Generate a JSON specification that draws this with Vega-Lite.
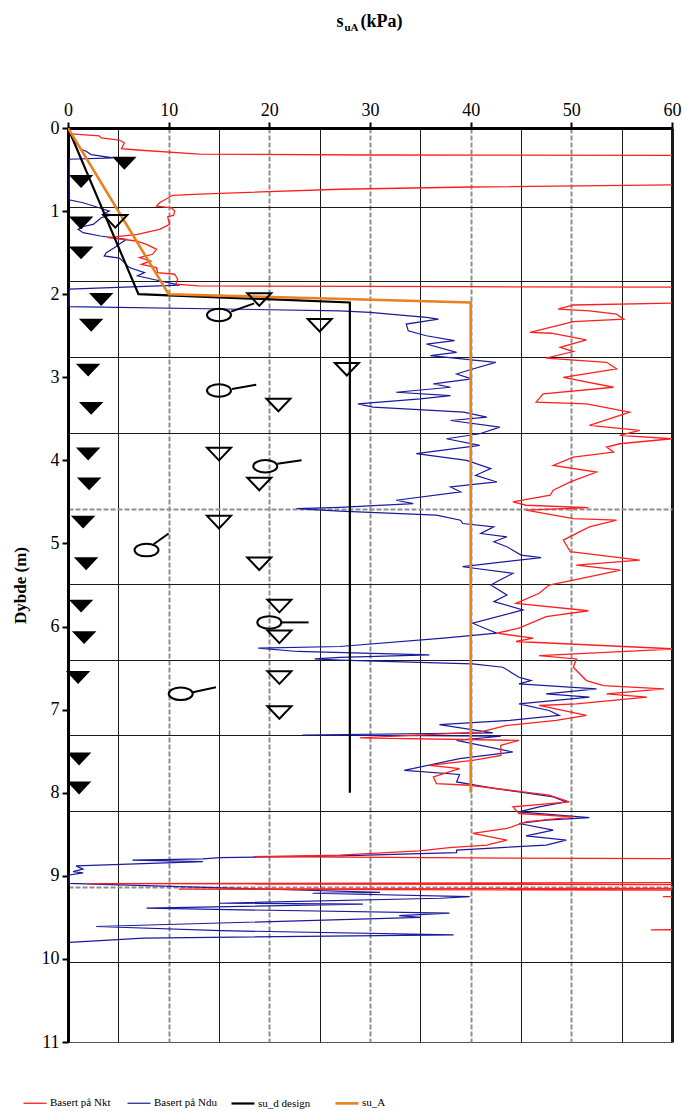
{
  "$schema": "https://vega.github.io/schema/vega-lite/v6.json",
  "width": 604,
  "height": 914,
  "autosize": {"type": "none"},
  "padding": {"left": 68, "top": 128, "right": 10, "bottom": 69},
  "background": "white",
  "config": {
    "font": "Liberation Serif",
    "view": {"stroke": "#555555", "strokeWidth": 1},
    "axis": {"labelFont": "Liberation Serif", "titleFont": "Liberation Serif", "labelColor": "black", "titleColor": "black"}
  },
  "datasets": {
    "curves": [
      {"s":"Basert på Ndu","x":0.08,"d":0.036},{"s":"Basert på Ndu","x":0.48,"d":0.136},{"s":"Basert på Ndu","x":1.3,"d":0.256},{"s":"Basert på Ndu","x":1.8,"d":0.28},{"s":"Basert på Ndu","x":2.3,"d":0.32},{"s":"Basert på Ndu","x":4.5,"d":0.36},{"s":"Basert på Ndu","x":0.15,"d":0.376},{"s":"Basert på Ndu","x":0.1,"d":0.865},{"s":"Basert på Ndu","x":1.5,"d":0.9},{"s":"Basert på Ndu","x":3.1,"d":0.96},{"s":"Basert på Ndu","x":4.1,"d":1.0},{"s":"Basert på Ndu","x":3.6,"d":1.03},{"s":"Basert på Ndu","x":4.3,"d":1.045},{"s":"Basert på Ndu","x":3.3,"d":1.08},{"s":"Basert på Ndu","x":2.5,"d":1.16},{"s":"Basert på Ndu","x":1.5,"d":1.185},{"s":"Basert på Ndu","x":1.0,"d":1.22},{"s":"Basert på Ndu","x":1.5,"d":1.26},{"s":"Basert på Ndu","x":3.2,"d":1.3},{"s":"Basert på Ndu","x":5.8,"d":1.34},{"s":"Basert på Ndu","x":5.3,"d":1.38},{"s":"Basert på Ndu","x":4.6,"d":1.44},{"s":"Basert på Ndu","x":3.8,"d":1.5},{"s":"Basert på Ndu","x":3.6,"d":1.54},{"s":"Basert på Ndu","x":5.1,"d":1.565},{"s":"Basert på Ndu","x":5.6,"d":1.62},{"s":"Basert på Ndu","x":6.1,"d":1.68},{"s":"Basert på Ndu","x":7.6,"d":1.74},{"s":"Basert på Ndu","x":6.9,"d":1.78},{"s":"Basert på Ndu","x":8.4,"d":1.82},{"s":"Basert på Ndu","x":11.1,"d":1.89},{"s":"Basert på Ndu","x":0.15,"d":1.94},{"s":"Basert på Ndu","x":0.1,"d":2.15},{"s":"Basert på Ndu","x":27,"d":2.2},{"s":"Basert på Ndu","x":30,"d":2.22},{"s":"Basert på Ndu","x":35.6,"d":2.28},{"s":"Basert på Ndu","x":36.8,"d":2.3},{"s":"Basert på Ndu","x":33.6,"d":2.36},{"s":"Basert på Ndu","x":33.8,"d":2.44},{"s":"Basert på Ndu","x":35.6,"d":2.5},{"s":"Basert på Ndu","x":38.4,"d":2.56},{"s":"Basert på Ndu","x":35.6,"d":2.6},{"s":"Basert på Ndu","x":38.6,"d":2.7},{"s":"Basert på Ndu","x":36,"d":2.74},{"s":"Basert på Ndu","x":42.5,"d":2.82},{"s":"Basert på Ndu","x":40.2,"d":2.9},{"s":"Basert på Ndu","x":38.6,"d":2.96},{"s":"Basert på Ndu","x":40.1,"d":3.02},{"s":"Basert på Ndu","x":36.3,"d":3.08},{"s":"Basert på Ndu","x":38.0,"d":3.12},{"s":"Basert på Ndu","x":32.6,"d":3.18},{"s":"Basert på Ndu","x":38.0,"d":3.22},{"s":"Basert på Ndu","x":35.0,"d":3.26},{"s":"Basert på Ndu","x":28.8,"d":3.32},{"s":"Basert på Ndu","x":30.3,"d":3.36},{"s":"Basert på Ndu","x":39.3,"d":3.42},{"s":"Basert på Ndu","x":41.6,"d":3.48},{"s":"Basert på Ndu","x":38.0,"d":3.52},{"s":"Basert på Ndu","x":42.9,"d":3.6},{"s":"Basert på Ndu","x":40.9,"d":3.68},{"s":"Basert på Ndu","x":37.6,"d":3.74},{"s":"Basert på Ndu","x":40.9,"d":3.82},{"s":"Basert på Ndu","x":34.6,"d":3.92},{"s":"Basert på Ndu","x":39.6,"d":4.0},{"s":"Basert på Ndu","x":42.0,"d":4.1},{"s":"Basert på Ndu","x":40.5,"d":4.18},{"s":"Basert på Ndu","x":42.6,"d":4.26},{"s":"Basert på Ndu","x":38.0,"d":4.32},{"s":"Basert på Ndu","x":39.0,"d":4.38},{"s":"Basert på Ndu","x":32.6,"d":4.48},{"s":"Basert på Ndu","x":34.3,"d":4.52},{"s":"Basert på Ndu","x":27,"d":4.565},{"s":"Basert på Ndu","x":22.7,"d":4.58},{"s":"Basert på Ndu","x":27,"d":4.61},{"s":"Basert på Ndu","x":36.6,"d":4.66},{"s":"Basert på Ndu","x":39,"d":4.72},{"s":"Basert på Ndu","x":39.2,"d":4.76},{"s":"Basert på Ndu","x":42.3,"d":4.8},{"s":"Basert på Ndu","x":41,"d":4.88},{"s":"Basert på Ndu","x":43.6,"d":4.92},{"s":"Basert på Ndu","x":42.3,"d":4.98},{"s":"Basert på Ndu","x":43.6,"d":5.04},{"s":"Basert på Ndu","x":45,"d":5.14},{"s":"Basert på Ndu","x":47,"d":5.17},{"s":"Basert på Ndu","x":39.2,"d":5.28},{"s":"Basert på Ndu","x":44.2,"d":5.36},{"s":"Basert på Ndu","x":42.9,"d":5.44},{"s":"Basert på Ndu","x":42,"d":5.5},{"s":"Basert på Ndu","x":43.6,"d":5.62},{"s":"Basert på Ndu","x":42.3,"d":5.7},{"s":"Basert på Ndu","x":45.2,"d":5.8},{"s":"Basert på Ndu","x":40.2,"d":5.96},{"s":"Basert på Ndu","x":42.6,"d":6.08},{"s":"Basert på Ndu","x":37.3,"d":6.14},{"s":"Basert på Ndu","x":27,"d":6.24},{"s":"Basert på Ndu","x":18.9,"d":6.26},{"s":"Basert på Ndu","x":22.8,"d":6.3},{"s":"Basert på Ndu","x":35.9,"d":6.34},{"s":"Basert på Ndu","x":27,"d":6.37},{"s":"Basert på Ndu","x":24.5,"d":6.39},{"s":"Basert på Ndu","x":27,"d":6.405},{"s":"Basert på Ndu","x":40.2,"d":6.45},{"s":"Basert på Ndu","x":43.2,"d":6.49},{"s":"Basert på Ndu","x":44.8,"d":6.61},{"s":"Basert på Ndu","x":46,"d":6.65},{"s":"Basert på Ndu","x":44.8,"d":6.69},{"s":"Basert på Ndu","x":52.5,"d":6.75},{"s":"Basert på Ndu","x":47.5,"d":6.81},{"s":"Basert på Ndu","x":51.8,"d":6.85},{"s":"Basert på Ndu","x":44.8,"d":6.93},{"s":"Basert på Ndu","x":47.8,"d":7.01},{"s":"Basert på Ndu","x":48.8,"d":7.07},{"s":"Basert på Ndu","x":43.9,"d":7.13},{"s":"Basert på Ndu","x":36.9,"d":7.18},{"s":"Basert på Ndu","x":42.2,"d":7.28},{"s":"Basert på Ndu","x":23.3,"d":7.305},{"s":"Basert på Ndu","x":43,"d":7.32},{"s":"Basert på Ndu","x":38.6,"d":7.37},{"s":"Basert på Ndu","x":44.2,"d":7.51},{"s":"Basert på Ndu","x":38.9,"d":7.59},{"s":"Basert på Ndu","x":33.4,"d":7.73},{"s":"Basert på Ndu","x":38.9,"d":7.78},{"s":"Basert på Ndu","x":38.6,"d":7.87},{"s":"Basert på Ndu","x":42.5,"d":7.95},{"s":"Basert på Ndu","x":44.8,"d":7.99},{"s":"Basert på Ndu","x":48.2,"d":8.05},{"s":"Basert på Ndu","x":49.5,"d":8.11},{"s":"Basert på Ndu","x":46.8,"d":8.17},{"s":"Basert på Ndu","x":44.8,"d":8.23},{"s":"Basert på Ndu","x":51.8,"d":8.3},{"s":"Basert på Ndu","x":47.5,"d":8.33},{"s":"Basert på Ndu","x":44.8,"d":8.37},{"s":"Basert på Ndu","x":48.2,"d":8.45},{"s":"Basert på Ndu","x":45.5,"d":8.52},{"s":"Basert på Ndu","x":49.5,"d":8.57},{"s":"Basert på Ndu","x":47.5,"d":8.63},{"s":"Basert på Ndu","x":38.6,"d":8.69},{"s":"Basert på Ndu","x":38.6,"d":8.72},{"s":"Basert på Ndu","x":27,"d":8.76},{"s":"Basert på Ndu","x":15.1,"d":8.78},{"s":"Basert på Ndu","x":13.4,"d":8.795},{"s":"Basert på Ndu","x":6.4,"d":8.81},{"s":"Basert på Ndu","x":13.4,"d":8.83},{"s":"Basert på Ndu","x":0.8,"d":8.88},{"s":"Basert på Ndu","x":1.5,"d":8.92},{"s":"Basert på Ndu","x":0.5,"d":8.95},{"s":"Basert på Ndu","x":1.5,"d":8.965},{"s":"Basert på Ndu","x":0.15,"d":8.99},{"s":"Basert på Ndu","x":0.1,"d":9.09},{"s":"Basert på Ndu","x":31,"d":9.2},{"s":"Basert på Ndu","x":24.3,"d":9.21},{"s":"Basert på Ndu","x":39.9,"d":9.25},{"s":"Basert på Ndu","x":37,"d":9.27},{"s":"Basert på Ndu","x":15.1,"d":9.33},{"s":"Basert på Ndu","x":29.3,"d":9.34},{"s":"Basert på Ndu","x":7.8,"d":9.39},{"s":"Basert på Ndu","x":37.9,"d":9.45},{"s":"Basert på Ndu","x":32.9,"d":9.48},{"s":"Basert på Ndu","x":35,"d":9.5},{"s":"Basert på Ndu","x":2.8,"d":9.61},{"s":"Basert på Ndu","x":15.2,"d":9.66},{"s":"Basert på Ndu","x":38.3,"d":9.71},{"s":"Basert på Ndu","x":7.5,"d":9.75},{"s":"Basert på Ndu","x":0.15,"d":9.8},

      {"s":"Basert på Nkt","x":0.3,"d":0.07},{"s":"Basert på Nkt","x":3.1,"d":0.095},{"s":"Basert på Nkt","x":3.3,"d":0.12},{"s":"Basert på Nkt","x":5.1,"d":0.145},{"s":"Basert på Nkt","x":5.6,"d":0.18},{"s":"Basert på Nkt","x":5.3,"d":0.25},{"s":"Basert på Nkt","x":6.9,"d":0.265},{"s":"Basert på Nkt","x":13,"d":0.315},{"s":"Basert på Nkt","x":30,"d":0.325},{"s":"Basert på Nkt","x":60,"d":0.33},{"s":"Basert på Nkt","x":75,"d":0.335},{"s":"Basert på Nkt","x":75,"d":0.67},{"s":"Basert på Nkt","x":60,"d":0.685},{"s":"Basert på Nkt","x":40,"d":0.71},{"s":"Basert på Nkt","x":27,"d":0.737},{"s":"Basert på Nkt","x":13.1,"d":0.795},{"s":"Basert på Nkt","x":10.4,"d":0.81},{"s":"Basert på Nkt","x":9.1,"d":0.9},{"s":"Basert på Nkt","x":8.8,"d":0.94},{"s":"Basert på Nkt","x":10.3,"d":0.96},{"s":"Basert på Nkt","x":10.6,"d":1.0},{"s":"Basert på Nkt","x":10.5,"d":1.05},{"s":"Basert på Nkt","x":9.9,"d":1.07},{"s":"Basert på Nkt","x":10.1,"d":1.16},{"s":"Basert på Nkt","x":9.1,"d":1.22},{"s":"Basert på Nkt","x":6.9,"d":1.28},{"s":"Basert på Nkt","x":3.96,"d":1.32},{"s":"Basert på Nkt","x":6.8,"d":1.36},{"s":"Basert på Nkt","x":7.8,"d":1.4},{"s":"Basert på Nkt","x":8.8,"d":1.46},{"s":"Basert på Nkt","x":8.4,"d":1.52},{"s":"Basert på Nkt","x":7.1,"d":1.56},{"s":"Basert på Nkt","x":8.2,"d":1.6},{"s":"Basert på Nkt","x":7.3,"d":1.64},{"s":"Basert på Nkt","x":8.8,"d":1.68},{"s":"Basert på Nkt","x":8.9,"d":1.74},{"s":"Basert på Nkt","x":10.6,"d":1.76},{"s":"Basert på Nkt","x":10.9,"d":1.82},{"s":"Basert på Nkt","x":10.7,"d":1.88},{"s":"Basert på Nkt","x":13,"d":1.9},{"s":"Basert på Nkt","x":40,"d":1.91},{"s":"Basert på Nkt","x":75,"d":1.92},{"s":"Basert på Nkt","x":75,"d":2.1},{"s":"Basert på Nkt","x":60,"d":2.107},{"s":"Basert på Nkt","x":50.2,"d":2.13},{"s":"Basert på Nkt","x":48.7,"d":2.18},{"s":"Basert på Nkt","x":51.8,"d":2.2},{"s":"Basert på Nkt","x":54.5,"d":2.24},{"s":"Basert på Nkt","x":55.2,"d":2.3},{"s":"Basert på Nkt","x":50.2,"d":2.33},{"s":"Basert på Nkt","x":45.9,"d":2.46},{"s":"Basert på Nkt","x":48,"d":2.47},{"s":"Basert på Nkt","x":51.5,"d":2.55},{"s":"Basert på Nkt","x":48.9,"d":2.64},{"s":"Basert på Nkt","x":50.2,"d":2.69},{"s":"Basert på Nkt","x":47.5,"d":2.77},{"s":"Basert på Nkt","x":53.5,"d":2.82},{"s":"Basert på Nkt","x":54.5,"d":2.9},{"s":"Basert på Nkt","x":49.2,"d":3.0},{"s":"Basert på Nkt","x":54.2,"d":3.12},{"s":"Basert på Nkt","x":47.2,"d":3.2},{"s":"Basert på Nkt","x":46.5,"d":3.3},{"s":"Basert på Nkt","x":51.5,"d":3.32},{"s":"Basert på Nkt","x":55.8,"d":3.42},{"s":"Basert på Nkt","x":51.8,"d":3.58},{"s":"Basert på Nkt","x":56.8,"d":3.64},{"s":"Basert på Nkt","x":54.8,"d":3.7},{"s":"Basert på Nkt","x":60,"d":3.74},{"s":"Basert på Nkt","x":54.8,"d":3.8},{"s":"Basert på Nkt","x":53.5,"d":3.84},{"s":"Basert på Nkt","x":54.2,"d":3.9},{"s":"Basert på Nkt","x":50.2,"d":3.96},{"s":"Basert på Nkt","x":48.2,"d":4.06},{"s":"Basert på Nkt","x":52.5,"d":4.14},{"s":"Basert på Nkt","x":49.9,"d":4.26},{"s":"Basert på Nkt","x":48.2,"d":4.36},{"s":"Basert på Nkt","x":47.9,"d":4.42},{"s":"Basert på Nkt","x":44.2,"d":4.5},{"s":"Basert på Nkt","x":45.5,"d":4.54},{"s":"Basert på Nkt","x":51.7,"d":4.57},{"s":"Basert på Nkt","x":45.5,"d":4.6},{"s":"Basert på Nkt","x":50.2,"d":4.7},{"s":"Basert på Nkt","x":54.5,"d":4.72},{"s":"Basert på Nkt","x":51.8,"d":4.8},{"s":"Basert på Nkt","x":49.2,"d":4.96},{"s":"Basert på Nkt","x":49.9,"d":5.1},{"s":"Basert på Nkt","x":56.8,"d":5.2},{"s":"Basert på Nkt","x":50.5,"d":5.26},{"s":"Basert på Nkt","x":54.9,"d":5.32},{"s":"Basert på Nkt","x":50.2,"d":5.44},{"s":"Basert på Nkt","x":47.8,"d":5.5},{"s":"Basert på Nkt","x":46.8,"d":5.6},{"s":"Basert på Nkt","x":44.5,"d":5.72},{"s":"Basert på Nkt","x":51.7,"d":5.81},{"s":"Basert på Nkt","x":47.5,"d":5.88},{"s":"Basert på Nkt","x":44.8,"d":6.02},{"s":"Basert på Nkt","x":42.6,"d":6.08},{"s":"Basert på Nkt","x":46.2,"d":6.14},{"s":"Basert på Nkt","x":44.5,"d":6.18},{"s":"Basert på Nkt","x":60.5,"d":6.27},{"s":"Basert på Nkt","x":46.8,"d":6.35},{"s":"Basert på Nkt","x":50.5,"d":6.39},{"s":"Basert på Nkt","x":50.2,"d":6.49},{"s":"Basert på Nkt","x":51.5,"d":6.65},{"s":"Basert på Nkt","x":53.2,"d":6.71},{"s":"Basert på Nkt","x":59.2,"d":6.75},{"s":"Basert på Nkt","x":53.5,"d":6.81},{"s":"Basert på Nkt","x":57.5,"d":6.85},{"s":"Basert på Nkt","x":50.5,"d":6.93},{"s":"Basert på Nkt","x":46.8,"d":6.95},{"s":"Basert på Nkt","x":51.5,"d":7.07},{"s":"Basert på Nkt","x":48.5,"d":7.13},{"s":"Basert på Nkt","x":43.6,"d":7.19},{"s":"Basert på Nkt","x":40.9,"d":7.27},{"s":"Basert på Nkt","x":29,"d":7.34},{"s":"Basert på Nkt","x":44.8,"d":7.37},{"s":"Basert på Nkt","x":43,"d":7.43},{"s":"Basert på Nkt","x":43,"d":7.55},{"s":"Basert på Nkt","x":40.2,"d":7.61},{"s":"Basert på Nkt","x":35.9,"d":7.67},{"s":"Basert på Nkt","x":38.9,"d":7.71},{"s":"Basert på Nkt","x":36.3,"d":7.81},{"s":"Basert på Nkt","x":36.6,"d":7.89},{"s":"Basert på Nkt","x":39.9,"d":7.91},{"s":"Basert på Nkt","x":45.2,"d":7.99},{"s":"Basert på Nkt","x":47.8,"d":8.03},{"s":"Basert på Nkt","x":49.8,"d":8.11},{"s":"Basert på Nkt","x":44.2,"d":8.17},{"s":"Basert på Nkt","x":44.8,"d":8.25},{"s":"Basert på Nkt","x":50.2,"d":8.29},{"s":"Basert på Nkt","x":45.5,"d":8.35},{"s":"Basert på Nkt","x":43.6,"d":8.43},{"s":"Basert på Nkt","x":40.2,"d":8.49},{"s":"Basert på Nkt","x":43.6,"d":8.57},{"s":"Basert på Nkt","x":41.6,"d":8.63},{"s":"Basert på Nkt","x":37.9,"d":8.66},{"s":"Basert på Nkt","x":34.9,"d":8.7},{"s":"Basert på Nkt","x":27,"d":8.75},{"s":"Basert på Nkt","x":18.4,"d":8.77},{"s":"Basert på Nkt","x":40,"d":8.785},{"s":"Basert på Nkt","x":75,"d":8.8},{"s":"Basert på Nkt","x":75,"d":9.08},{"s":"Basert på Nkt","x":2,"d":9.095},{"s":"Basert på Nkt","x":75,"d":9.11},{"s":"Basert på Nkt","x":75,"d":9.15},{"s":"Basert på Nkt","x":11,"d":9.16},{"s":"Basert på Nkt","x":75,"d":9.175},{"s":"Basert på Nkt","x":75,"d":9.24},{"s":"Basert på Nkt","x":59.1,"d":9.25},{"s":"Basert på Nkt","x":75,"d":9.26},{"s":"Basert på Nkt","x":75,"d":9.64},{"s":"Basert på Nkt","x":57.9,"d":9.65},{"s":"Basert på Nkt","x":75,"d":9.66},

      {"s":"su_d design","x":0,"d":0},{"s":"su_d design","x":7,"d":2.0},{"s":"su_d design","x":28,"d":2.1},{"s":"su_d design","x":28,"d":8.0},
      {"s":"su_A","x":0,"d":0},{"s":"su_A","x":10,"d":2.0},{"s":"su_A","x":40,"d":2.1},{"s":"su_A","x":40,"d":8.0}
    ],
    "tri_filled": [
      {"x":5.6,"d":0.42},{"x":1.3,"d":0.64},{"x":1.3,"d":1.14},{"x":1.3,"d":1.5},{"x":3.3,"d":2.06},{"x":2.3,"d":2.37},{"x":2.0,"d":2.91},{"x":2.3,"d":3.37},{"x":2.0,"d":3.92},{"x":2.1,"d":4.28},{"x":1.5,"d":4.74},{"x":1.8,"d":5.24},{"x":1.3,"d":5.75},{"x":1.6,"d":6.13},{"x":1.0,"d":6.61},{"x":1.1,"d":7.59},{"x":1.1,"d":7.94}
    ],
    "tri_open": [
      {"x":4.7,"d":1.12},{"x":19.0,"d":2.06},{"x":25.0,"d":2.37},{"x":27.7,"d":2.9},{"x":20.9,"d":3.33},{"x":15.0,"d":3.92},{"x":19.0,"d":4.28},{"x":15.0,"d":4.74},{"x":19.0,"d":5.24},{"x":21.0,"d":5.75},{"x":21.0,"d":6.12},{"x":21.0,"d":6.61},{"x":21.0,"d":7.03}
    ],
    "circles": [
      {"x":15.0,"d":2.25},{"x":15.0,"d":3.16},{"x":19.6,"d":4.07},{"x":7.8,"d":5.08},{"x":20.0,"d":5.95},{"x":11.2,"d":6.81}
    ],
    "tails": [
      {"x":16.2,"d":2.21,"x2":18.5,"d2":2.11},{"x":16.3,"d":3.14,"x2":18.7,"d2":3.09},{"x":20.8,"d":4.04,"x2":23.2,"d2":4.0},{"x":8.5,"d":5.01,"x2":10.0,"d2":4.88},{"x":21.2,"d":5.95,"x2":23.9,"d2":5.95},{"x":12.4,"d":6.79,"x2":14.7,"d2":6.73}
    ]
  },
  "resolve": {"axis": {"x": "independent"}},
  "layer": [
    {
      "data": {"name": "curves"},
      "mark": {"type": "line", "clip": true},
      "encoding": {
        "x": {
          "field": "x", "type": "quantitative",
          "scale": {"domain": [0, 60], "nice": false, "zero": false},
          "axis": {
            "orient": "top",
            "values": [0,5,10,15,20,25,30,35,40,45,50,55,60],
            "labelExpr": "datum.value % 10 === 0 ? '' + datum.value : ''",
            "labelFontSize": 18, "labelPadding": 3, "labelOverlap": false, "labelFlush": false,
            "tickSize": 6, "tickWidth": 2, "tickColor": "black",
            "tickOpacity": {"condition": {"test": "datum.value % 10 !== 0", "value": 0}, "value": 1},
            "domainColor": "black", "domainWidth": 3,
            "grid": true,
            "gridOpacity": {"condition": {"test": "datum.value === 0", "value": 0}, "value": 1},
            "gridColor": {"condition": {"test": "datum.value % 10 === 0 && datum.value < 60", "value": "#8f8f8f"}, "value": "#1a1a1a"},
            "gridDash": {"condition": {"test": "datum.value % 10 === 0 && datum.value < 60", "value": [5, 2]}, "value": []},
            "gridWidth": {"condition": [{"test": "datum.value === 60", "value": 3}, {"test": "datum.value % 10 === 0", "value": 2}], "value": 1},
            "title": "s", "titleFontSize": 18, "titleFontWeight": "bold",
            "titleX": 268, "titleY": -102, "titleAlign": "left", "titleBaseline": "alphabetic", "titleAngle": 0
          }
        },
        "y": {
          "field": "d", "type": "quantitative",
          "scale": {"domain": [0, 11], "reverse": true, "nice": false, "zero": false},
          "axis": {
            "orient": "left",
            "values": [0,0.945,1,1.84,2,2.75,3,3.67,4,4.58,5,5.49,6,6.4,7,7.31,8,8.22,9,9.13,10,10.04,11],
            "labelExpr": "datum.value % 1 === 0 ? '' + datum.value : ''",
            "labelFontSize": 18, "labelPadding": 3, "labelOverlap": false, "labelFlush": false,
            "tickSize": 6, "tickWidth": 2, "tickColor": "black",
            "tickOpacity": {"condition": {"test": "datum.value % 1 !== 0", "value": 0}, "value": 1},
            "domainColor": "black", "domainWidth": 3,
            "grid": true,
            "gridOpacity": {"condition": {"test": "datum.value % 1 === 0", "value": 0}, "value": 1},
            "gridColor": {"condition": {"test": "datum.value === 4.58 || datum.value === 9.13", "value": "#8f8f8f"}, "value": "#1a1a1a"},
            "gridDash": {"condition": {"test": "datum.value === 4.58 || datum.value === 9.13", "value": [5, 2]}, "value": []},
            "gridWidth": {"condition": {"test": "datum.value === 4.58 || datum.value === 9.13", "value": 2}, "value": 1},
            "title": "Dybde (m)", "titleFontSize": 17, "titleFontWeight": "bold",
            "titleX": -48, "titleY": 457, "titleAngle": 270, "titleAlign": "center", "titleBaseline": "middle"
          }
        },
        "color": {
          "field": "s", "type": "nominal",
          "scale": {"domain": ["Basert på Nkt", "Basert på Ndu", "su_d design", "su_A"], "range": ["#ff1f1f", "#1a1a9e", "#000000", "#e8821e"]},
          "legend": {
            "orient": "none", "legendX": -46, "legendY": 962,
            "direction": "horizontal", "columns": 4, "gridAlign": "all",
            "title": null, "symbolType": "stroke", "symbolSize": 529, "symbolStrokeWidth": 2,
            "labelFont": "Liberation Serif", "labelFontSize": 11, "labelColor": "black", "labelOffset": 2,
            "labelLimit": 200,
            "columnPadding": 9,
            "encode": {"symbols": {"update": {"strokeWidth": {"signal": "datum.value === 'su_A' || datum.value === 'su_d design' ? 3.5 : 1.5"}}}}
          }
        },
        "strokeWidth": {
          "field": "s", "type": "nominal",
          "scale": {"type": "ordinal", "domain": ["Basert på Nkt", "Basert på Ndu", "su_d design", "su_A"], "range": [1.3, 1.2, 2.2, 2.6]},
          "legend": null
        },
        "order": {"field": "d", "type": "quantitative"}
      }
    },
    {
      "data": {"name": "tri_filled"},
      "mark": {"type": "point", "shape": "M -1 -0.5 L 1 -0.5 L 0 0.55 Z", "filled": true, "fill": "black", "strokeWidth": 0, "size": 600, "opacity": 1},
      "encoding": {
        "x": {"field": "x", "type": "quantitative", "axis": null},
        "y": {"field": "d", "type": "quantitative"}
      }
    },
    {
      "data": {"name": "tri_open"},
      "mark": {"type": "point", "shape": "M -1 -0.5 L 1 -0.5 L 0 0.55 Z", "filled": false, "stroke": "black", "strokeWidth": 2, "size": 576, "opacity": 1},
      "encoding": {
        "x": {"field": "x", "type": "quantitative", "axis": null},
        "y": {"field": "d", "type": "quantitative"}
      }
    },
    {
      "data": {"name": "tails"},
      "mark": {"type": "rule", "color": "black", "strokeWidth": 2},
      "encoding": {
        "x": {"field": "x", "type": "quantitative",
          "axis": {"orient": "top", "labels": false, "ticks": false, "domain": false, "grid": false,
            "title": "uA", "titleFontSize": 11, "titleFontWeight": "bold",
            "titleX": 276, "titleY": -98, "titleAlign": "left", "titleBaseline": "alphabetic", "titleAngle": 0}},
        "y": {"field": "d", "type": "quantitative"},
        "x2": {"field": "x2"},
        "y2": {"field": "d2"}
      }
    },
    {
      "data": {"name": "circles"},
      "mark": {"type": "point", "shape": "M -1 0 A 1 0.52 0 1 0 1 0 A 1 0.52 0 1 0 -1 0 Z", "filled": false, "stroke": "black", "strokeWidth": 2, "size": 576, "opacity": 1},
      "encoding": {
        "x": {"field": "x", "type": "quantitative",
          "axis": {"orient": "top", "labels": false, "ticks": false, "domain": false, "grid": false,
            "title": "(kPa)", "titleFontSize": 18, "titleFontWeight": "bold",
            "titleX": 292, "titleY": -102, "titleAlign": "left", "titleBaseline": "alphabetic", "titleAngle": 0}},
        "y": {"field": "d", "type": "quantitative"}
      }
    }
  ]
}
